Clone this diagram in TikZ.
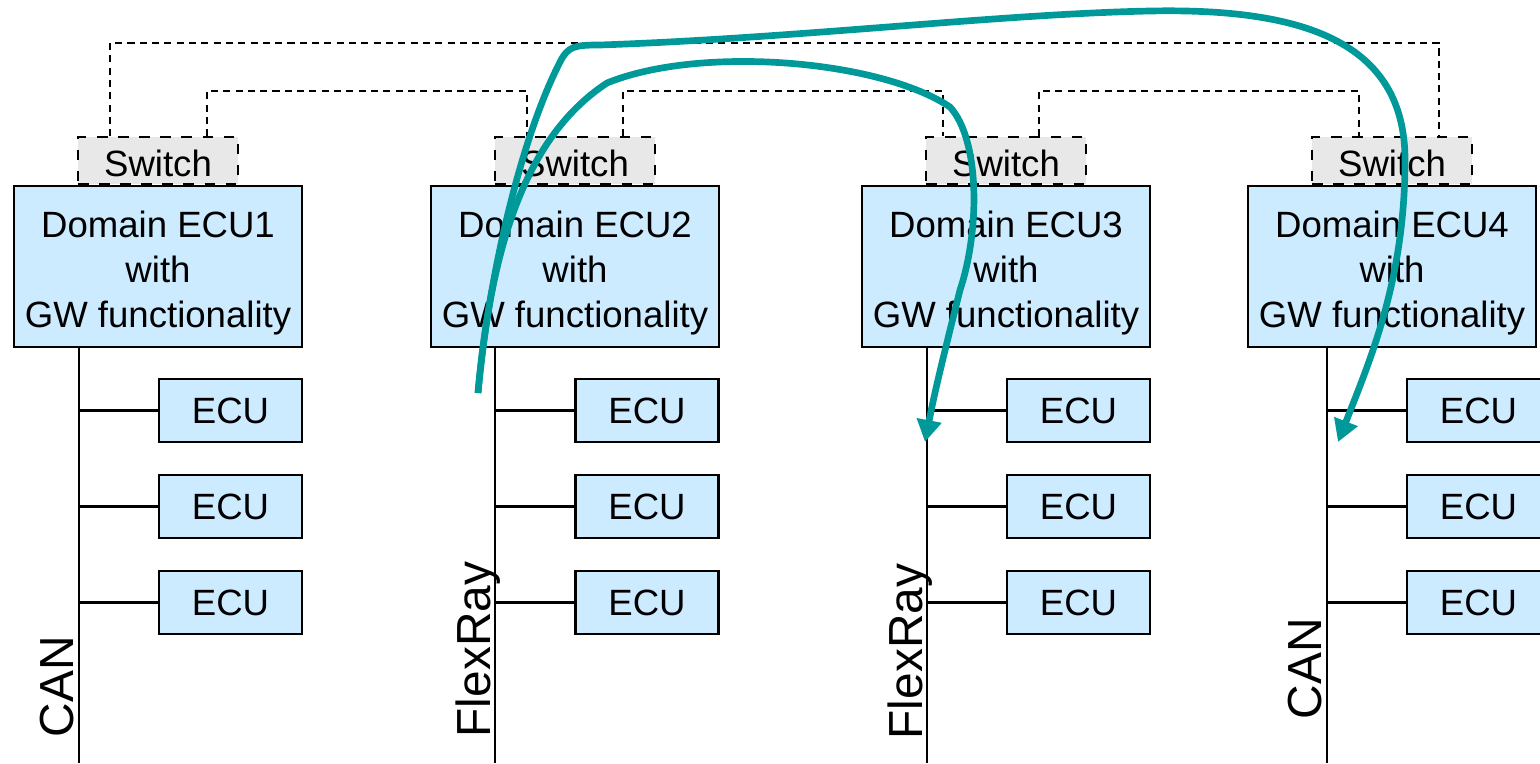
\documentclass[tikz,border=0pt]{standalone}
\usepackage{fontspec}
\setmainfont{Liberation Sans}
\usetikzlibrary{arrows.meta,positioning}
\definecolor{gwblue}{RGB}{204,235,255}
\definecolor{swgray}{RGB}{232,232,232}
\definecolor{routeteal}{RGB}{0,153,153}
\newcommand{\gwlabel}[1]{\rule{0pt}{11pt}Domain #1\\with\\GW functionality}

\begin{document}
\begin{tikzpicture}[x=0.01cm, y=-0.01cm,
  domnode/.style={draw, fill=gwblue, line width=0.6pt, minimum width=2.88cm, minimum height=1.61cm, inner sep=0pt, align=center, font=\fontsize{10.4}{12.8}\selectfont},
  swnode/.style={draw, dashed, fill=swgray, line width=0.45pt, minimum width=1.6cm, minimum height=0.47cm, inner sep=0pt, font=\fontsize{10.4}{12.8}\selectfont, execute at begin node={\rule{0pt}{9.3pt}}},
  ecunode/.style={draw, fill=gwblue, line width=0.6pt, minimum width=1.43cm, minimum height=0.63cm, inner sep=0pt, font=\fontsize{10.4}{12.8}\selectfont},
  busname/.style={rotate=90, anchor=base west, inner sep=0pt, font=\fontsize{13.6}{16}\selectfont},
  wire/.style={line width=0.6pt},
  link/.style={line width=0.45pt, dash pattern=on 2pt off 1.5pt},
  route/.style={routeteal, line width=1.9pt, -{Triangle[length=2.2mm, width=2.4mm]}}]
\path[use as bounding box, clip] (0,0) rectangle (1540,763);
% Domain controllers and their switches
\node[domnode] (dom1) at (158,266.5) {\gwlabel{ECU1}};
\node[domnode] (dom2) at (575,266.5) {\gwlabel{ECU2}};
\node[domnode] (dom3) at (1006,266.5) {\gwlabel{ECU3}};
\node[domnode] (dom4) at (1392,266.5) {\gwlabel{ECU4}};
\node[swnode, above=0pt of dom1] (sw1) {Switch};
\node[swnode, above=0pt of dom2] (sw2) {Switch};
\node[swnode, above=0pt of dom3] (sw3) {Switch};
\node[swnode, above=0pt of dom4] (sw4) {Switch};
% Ethernet backbone between switches
\draw[link] (sw1.north -| 110,0) |- (1439,43) -- (sw4.north -| 1439,0);
\draw[link] (sw1.north -| 207,0) |- (527,91) -- (sw2.north -| 527,0);
\draw[link] (sw2.north -| 623,0) |- (943,91) -- (sw3.north -| 943,0);
\draw[link] (sw3.north -| 1039,0) |- (1359,91) -- (sw4.north -| 1359,0);
% ECUs on each bus
\node[ecunode] (e11) at (230.5,410.5) {ECU};
\node[ecunode] (e12) at (230.5,506.5) {ECU};
\node[ecunode] (e13) at (230.5,602.5) {ECU};
\node[ecunode] (e21) at (647,410.5) {ECU};
\node[ecunode] (e22) at (647,506.5) {ECU};
\node[ecunode] (e23) at (647,602.5) {ECU};
\node[ecunode] (e31) at (1078.5,410.5) {ECU};
\node[ecunode] (e32) at (1078.5,506.5) {ECU};
\node[ecunode] (e33) at (1078.5,602.5) {ECU};
\node[ecunode] (e41) at (1478.5,410.5) {ECU};
\node[ecunode] (e42) at (1478.5,506.5) {ECU};
\node[ecunode] (e43) at (1478.5,602.5) {ECU};
% Buses
\coordinate (bus1) at (79,763);
\coordinate (bus2) at (495,763);
\coordinate (bus3) at (927,763);
\coordinate (bus4) at (1327,763);
\draw[wire] (dom1.south -| bus1) -- (bus1);
\draw[wire] (dom2.south -| bus2) -- (bus2);
\draw[wire] (dom3.south -| bus3) -- (bus3);
\draw[wire] (dom4.south -| bus4) -- (bus4);
\draw[wire] (e11.west -| bus1) -- (e11.west);
\draw[wire] (e12.west -| bus1) -- (e12.west);
\draw[wire] (e13.west -| bus1) -- (e13.west);
\draw[wire] (e21.west -| bus2) -- (e21.west);
\draw[wire] (e22.west -| bus2) -- (e22.west);
\draw[wire] (e23.west -| bus2) -- (e23.west);
\draw[wire] (e31.west -| bus3) -- (e31.west);
\draw[wire] (e32.west -| bus3) -- (e32.west);
\draw[wire] (e33.west -| bus3) -- (e33.west);
\draw[wire] (e41.west -| bus4) -- (e41.west);
\draw[wire] (e42.west -| bus4) -- (e42.west);
\draw[wire] (e43.west -| bus4) -- (e43.west);
% Bus names
\node[busname] (can1) at (73,738) {CAN};
\node[busname] (flex2) at (490,738) {FlexRay};
\node[busname] (flex3) at (922,740) {FlexRay};
\node[busname] (can4) at (1321,720) {CAN};
% Routes
\coordinate (src) at (478,393);
\coordinate (dst3) at (925,442);
\coordinate (dst4) at (1338,442);
\draw[route] (src) .. controls (490,260) and (520,140) .. (607,83)
  .. controls (700,45) and (880,60) .. (950,107)
  .. controls (980,140) and (980,230) .. (960,290)
  .. controls (945,350) and (935,390) .. (dst3);
\draw[route] (src) .. controls (488,280) and (520,140) .. (560,62)
  .. controls (568,46) and (575,45) .. (600,45)
  .. controls (800,38) and (1000,14) .. (1150,11)
  .. controls (1300,8) and (1405,40) .. (1405,160)
  .. controls (1405,280) and (1370,360) .. (dst4);
\end{tikzpicture}
\end{document}
